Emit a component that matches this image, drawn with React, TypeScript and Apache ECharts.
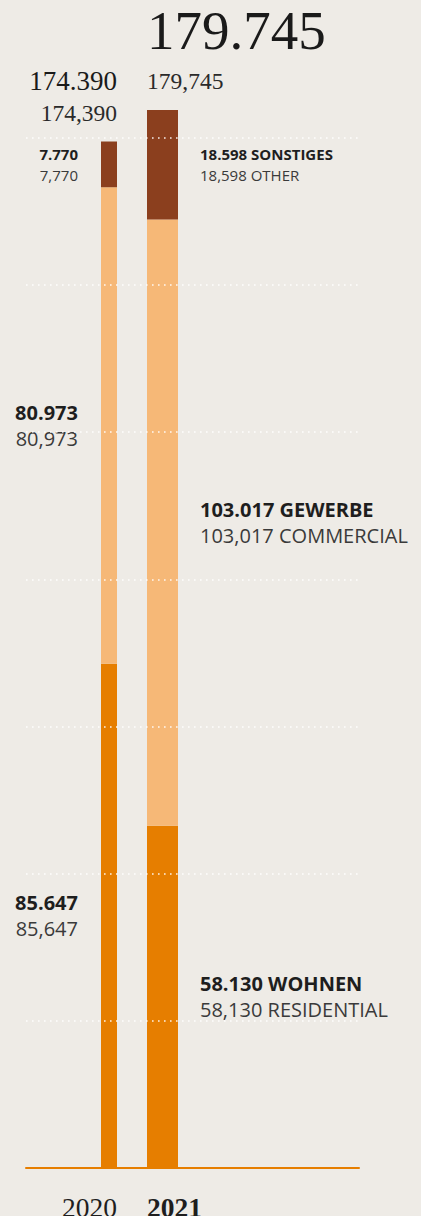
import React, { useEffect, useRef } from "react";
import * as echarts from "echarts";

const categories = ["2020", "2021"];
const wohnen = [85647, 58130];
const gewerbe = [80973, 103017];
const sonstiges = [7770, 18598];
const totals = [174390, 179745];
const namesDe = ["WOHNEN", "GEWERBE", "SONSTIGES"];
const namesEn = ["RESIDENTIAL", "COMMERCIAL", "OTHER"];
const yMax = 198430;
const yInterval = 25000;

const BG = "#eeebe6";
const C_WOHNEN = "#e67e00";
const C_GEWERBE = "#f6b877";
const C_SONST = "#8b3f1e";
const SANS = "'Open Sans', 'Noto Sans', sans-serif";
const SERIF = "'Liberation Serif', 'DejaVu Serif', serif";

function fmt(n: number, sep: string) {
  return String(n).replace(/\B(?=(\d{3})+(?!\d))/g, sep);
}

export default function App() {
  const ref = useRef<HTMLDivElement>(null);
  useEffect(() => {
    document.body.style.margin = "0";
    document.body.style.background = BG;
    const chart = echarts.init(ref.current!, null, { renderer: "svg" });

    const barWidths = [16, 31];
    const segs = [
      { vals: wohnen, color: C_WOHNEN, k: 0 },
      { vals: gewerbe, color: C_GEWERBE, k: 1 },
      { vals: sonstiges, color: C_SONST, k: 2 },
    ];
    const series: any[] = [];
    categories.forEach((cat, i) => {
      const pad = (v: any) => (i === 0 ? [v, "-"] : ["-", v]);
      const base = {
        type: "bar",
        xAxisIndex: i + 1,
        yAxisIndex: 1,
        stack: "s" + cat,
        barWidth: barWidths[i],
      };
      // year label (zero-height base)
      series.push({
        ...base,
        name: "year" + cat,
        data: pad(0),
        itemStyle: { color: "rgba(0,0,0,0)" },
        label: {
          show: true,
          position: "bottom",
          distance: 24,
          align: i === 0 ? "right" : "left",
          offset: i === 0 ? [8, 0] : [-15.5, 0],
          formatter: () => cat,
          fontFamily: SERIF,
          fontSize: 27.5,
          lineHeight: 30,
          fontWeight: i === 0 ? "normal" : "bold",
          color: "#1e1e1e",
        },
      });
      segs.forEach((s) => {
        const v = s.vals[i];
        const small = s.k === 2;
        const fs = small ? 15 : 20;
        const lh = small ? 21 : 26;
        const txt =
          i === 0
            ? `{b|${fmt(v, ".")}}\n{r|${fmt(v, ",")}}`
            : `{b|${fmt(v, ".")} ${namesDe[s.k]}}\n{r|${fmt(v, ",")} ${namesEn[s.k]}}`;
        series.push({
          ...base,
          name: namesDe[s.k] + cat,
          data: pad(v),
          itemStyle: { color: s.color },
          label: {
            show: true,
            position: i === 0 ? "left" : "right",
            distance: i === 0 ? 23 : 22,
            formatter: () => txt,
            rich: {
              b: { fontFamily: SANS, fontSize: fs, fontWeight: "bold", lineHeight: lh, color: "#1e1e1e" },
              r: { fontFamily: SANS, fontSize: fs, fontWeight: "normal", lineHeight: lh, color: "#3a3a3a" },
            },
          },
        });
      });
      // total label (zero-height top)
      const big = i === 1;
      series.push({
        ...base,
        name: "total" + cat,
        data: pad(0),
        itemStyle: { color: "rgba(0,0,0,0)" },
        label: {
          show: true,
          position: "top",
          distance: 14,
          align: i === 0 ? "right" : "left",
          offset: i === 0 ? [8, 0] : [-15.5, 0],
          formatter: () => `{a|${fmt(totals[i], ".")}}\n{c|${fmt(totals[i], ",")}}`,
          rich: {
            a: {
              fontFamily: SERIF,
              fontSize: big ? 55 : 27,
              lineHeight: big ? 70 : 34,
              color: "#1a1a1a",
            },
            c: { fontFamily: SERIF, fontSize: 23.5, lineHeight: 30, color: "#2a2a2a" },
          },
        },
      });
    });

    const gridTop = 0;
    const gridBottom = 48;
    chart.setOption({
      animation: false,
      backgroundColor: BG,
      grid: [
        { left: 26, right: 62, top: gridTop, bottom: gridBottom },
        { left: 82.25, width: 107, top: gridTop, bottom: gridBottom },
      ],
      xAxis: [
        {
          gridIndex: 0,
          type: "category",
          data: [""],
          axisLine: { show: true, lineStyle: { color: C_WOHNEN, width: 2 } },
          axisTick: { show: false },
          axisLabel: { show: false },
          z: 11,
        },
        { gridIndex: 1, type: "category", data: categories, show: false },
        { gridIndex: 1, type: "category", data: categories, show: false },
      ],
      yAxis: [
        {
          gridIndex: 0,
          type: "value",
          min: 0,
          max: yMax,
          interval: yInterval,
          axisLine: { show: false },
          axisTick: { show: false },
          axisLabel: { show: false },
          splitLine: {
            show: true,
            showMinLine: false,
            showMaxLine: false,
            lineStyle: { color: "rgba(255,255,255,0.9)", width: 1.6, type: [1.6, 4.4] },
          },
          z: 10,
        },
        {
          gridIndex: 1,
          type: "value",
          min: 0,
          max: yMax,
          interval: yInterval,
          show: false,
          splitLine: { show: false },
        },
      ],
      series,
    });
    return () => chart.dispose();
  }, []);
  return <div ref={ref} style={{ width: 421, height: 1216, background: BG }} />;
}
